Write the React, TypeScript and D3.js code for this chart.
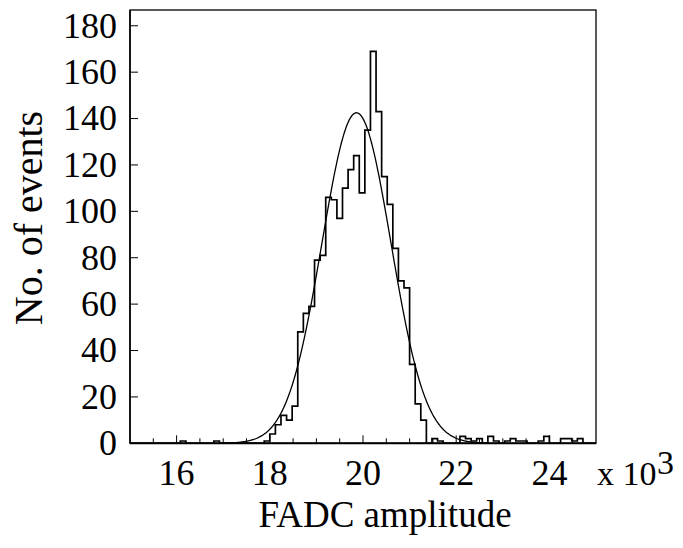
import React from 'react';
import * as d3 from 'd3';

// histogram: bins of 120 counts-units starting at 15000
const BIN_START = 15000;
const BIN_WIDTH = 120;
const binCounts = [
  0, 0, 0, 0, 0, 0, 0, 0, 0, 1,
  0, 0, 0, 0, 0, 1, 0, 0, 0, 0,
  0, 0, 0, 0, 1, 4, 8, 12, 10, 16,
  48, 56, 59, 79, 81, 106, 105, 97, 110, 118,
  124, 108, 135, 169, 143, 115, 103, 84, 70, 67,
  34, 17, 10, 0, 2, 1, 0, 0, 0, 3,
  2, 1, 2, 0, 3, 1, 0, 1, 2, 1,
  1, 0, 0, 1, 3, 0, 0, 2, 2, 1,
  2, 0, 0, 0,
];

// gaussian fit parameters
const fitConstant = 142.5;
const fitMean = 19860;
const fitSigma = 740;
const fitRange = [17000, 22600];

const xTicksMajor = [16000, 18000, 20000, 22000, 24000];
const xTickLabels = ['16', '18', '20', '22', '24'];
const yTicks = [0, 20, 40, 60, 80, 100, 120, 140, 160, 180];

const W = 683;
const H = 548;
const left = 130;
const right = 596;
const top = 10;
const bottom = 443.3;

const App = () => {
  const x = d3.scaleLinear().domain([15000, 25000]).range([left, right]);
  const y = d3.scaleLinear().domain([0, 186.8]).range([bottom, top]);

  // step outline of the histogram
  const pts: [number, number][] = [];
  binCounts.forEach((c, i) => {
    const x0 = BIN_START + i * BIN_WIDTH;
    const x1 = Math.min(x0 + BIN_WIDTH, 25000);
    pts.push([x0, c], [x1, c]);
  });
  const histLine = d3.line<[number, number]>()
    .x(d => x(d[0]))
    .y(d => y(d[1]));

  const gaus = (v: number) =>
    fitConstant * Math.exp(-0.5 * ((v - fitMean) / fitSigma) ** 2);
  const fitPts = d3.range(fitRange[0], fitRange[1] + 1, 20).map(v => [v, gaus(v)] as [number, number]);

  const minorTicks = d3.range(15500, 25000, 500).filter(v => v % 2000 !== 0);

  const font = '"Liberation Serif", "DejaVu Serif", serif';
  const tickSize = 36;

  return (
    <svg width={W} height={H} style={{ position: 'absolute', left: 0, top: 0, background: '#fff' }}>
      <rect x={0} y={0} width={W} height={H} fill="#fff" />
      <defs>
        <clipPath id="frame">
          <rect x={left} y={top} width={right - left} height={bottom - top} />
        </clipPath>
      </defs>

      {/* frame */}
      <rect x={left} y={top} width={right - left} height={bottom - top}
        fill="none" stroke="#000" strokeWidth={1.3} />

      {/* histogram */}
      <path d={histLine(pts) || ''} fill="none" stroke="#000" strokeWidth={1.7} clipPath="url(#frame)" />

      {/* fit */}
      <path d={histLine(fitPts) || ''} fill="none" stroke="#000" strokeWidth={1.3} clipPath="url(#frame)" />

      {/* bottom axis */}
      <line x1={left} x2={right} y1={bottom} y2={bottom} stroke="#000" strokeWidth={2} />
      {xTicksMajor.map(v => (
        <line key={'M' + v} x1={x(v)} x2={x(v)} y1={bottom} y2={bottom - 8} stroke="#000" strokeWidth={1} />
      ))}
      {minorTicks.map(v => (
        <line key={'m' + v} x1={x(v)} x2={x(v)} y1={bottom} y2={bottom - 5} stroke="#000" strokeWidth={1} />
      ))}
      {xTicksMajor.map((v, i) => (
        <text key={'xl' + v} x={x(v)} y={485} textAnchor="middle" fontFamily={font} fontSize={tickSize}>
          {xTickLabels[i]}
        </text>
      ))}
      <text x={597} y={485} fontFamily={font} fontSize={34}>x 10</text>
      <text x={657} y={474} fontFamily={font} fontSize={34}>3</text>

      {/* left axis */}
      <line x1={left} x2={left} y1={top} y2={bottom} stroke="#000" strokeWidth={1.5} />
      {yTicks.map(v => (
        <g key={'y' + v}>
          <line x1={left} x2={left + 8} y1={y(v)} y2={y(v)} stroke="#000" strokeWidth={1} />
          <text x={117} y={y(v) + tickSize * 0.33} textAnchor="end" fontFamily={font} fontSize={tickSize}>
            {v}
          </text>
        </g>
      ))}

      {/* titles */}
      <text x={(left + right) / 2 + 22} y={527} textAnchor="middle" fontFamily={font} fontSize={37}>
        FADC amplitude
      </text>
      <text transform="translate(42,218) rotate(-90)" textAnchor="middle" fontFamily={font} fontSize={40}>
        No. of events
      </text>
    </svg>
  );
};

export default App;
